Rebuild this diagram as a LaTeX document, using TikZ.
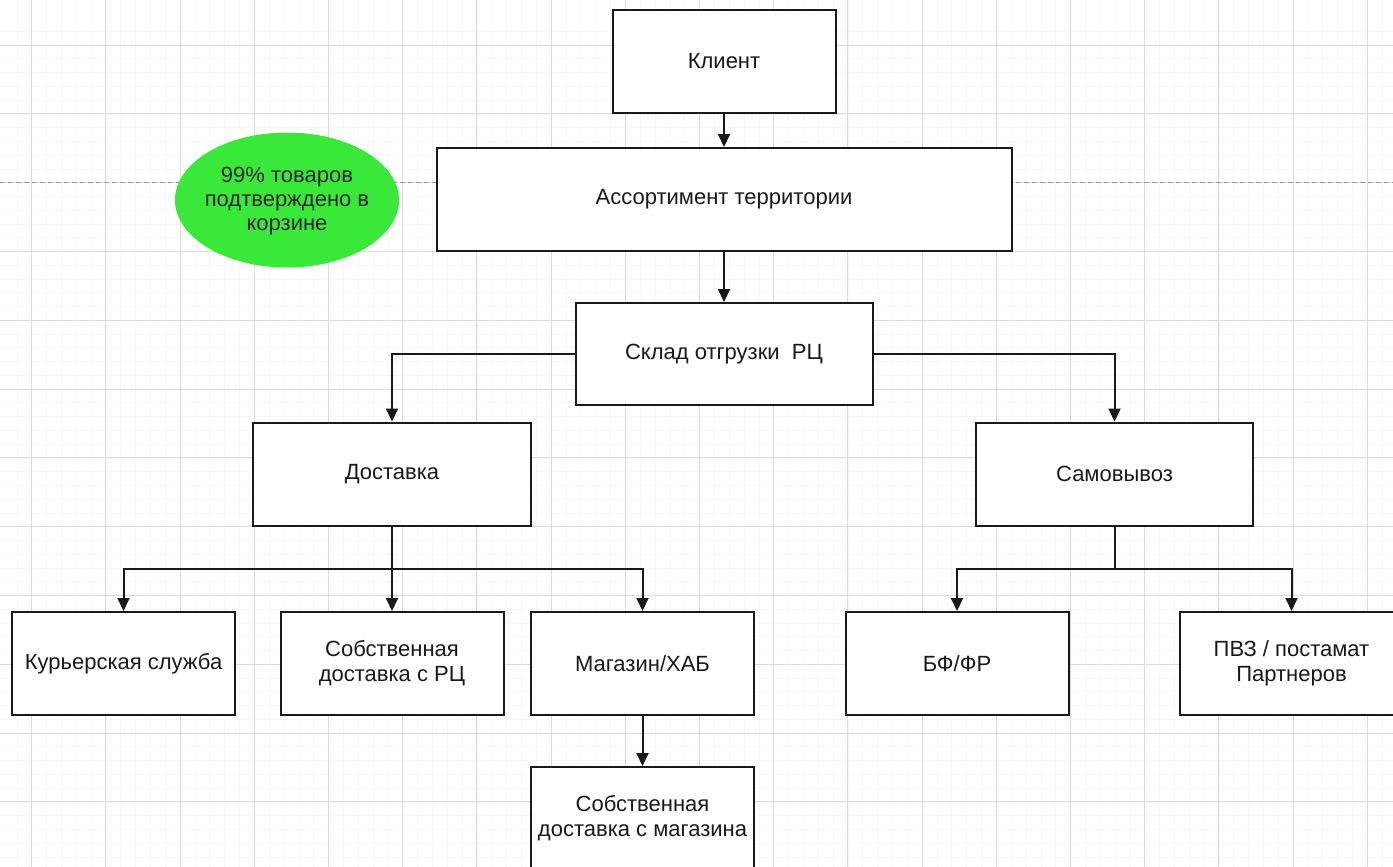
\documentclass[tikz,border=0pt]{standalone}
\usepackage{fontspec}
\setmainfont{Liberation Sans}
\usetikzlibrary{shapes.geometric,arrows.meta}
\definecolor{gridmajor}{RGB}{220,220,220}
\definecolor{gridminor}{RGB}{247,247,247}
\definecolor{ink}{RGB}{25,25,25}
\definecolor{badge}{RGB}{58,232,58}
\begin{document}
\begin{tikzpicture}[x=1pt,y=-1pt,
  box/.style={draw=ink,line width=2pt,fill=white,minimum width=223pt,
    minimum height=103pt,align=center,inner sep=2pt,text=ink,
    font=\fontsize{22}{25}\selectfont},
  wire/.style={draw=ink,line width=2pt},
  link/.style={wire,-{Triangle[length=13pt,width=12pt]}},
  guide/.style={draw=black!40,line width=0.8pt,dash pattern=on 5pt off 3pt}]

% page frame
\useasboundingbox (0,0) rectangle (1393,867);
\clip (0,0) rectangle (1393,867);

% background grid
\fill[white] (0,0) rectangle (1393,867);
\foreach \i in {-1,...,100} {
  \draw[gridminor,line width=0.6pt] ({31.7+14.84*\i},0) -- ({31.7+14.84*\i},867);
  \draw[gridminor,line width=0.6pt] (0,{45+13.76*\i}) -- (1393,{45+13.76*\i});
}
\foreach \i in {-1,...,19} {
  \draw[gridmajor,line width=0.9pt] ({31.7+74.2*\i},0) -- ({31.7+74.2*\i},867);
  \draw[gridmajor,line width=0.9pt] (0,{45+68.8*\i}) -- (1393,{45+68.8*\i});
}

% horizontal guide line
\coordinate (gl) at (0,182.6);
\coordinate (gr) at (1393,182.6);
\draw[guide] (gl) -- (gr);

% nodes
\node[box] (client) at (724,61.5) {Клиент};
\node[box,minimum width=575pt] (assort) at (724,199.5) {Ассортимент территории};
\node[draw=none,fill=badge,ellipse,minimum width=224pt,minimum height=135pt,
  inner sep=0pt] (badge) at (287,200) {};
\node[align=center,text=black!85,inner sep=0pt,
  font=\fontsize{22}{24}\selectfont] (badgetext) at (287,201)
  {99\% товаров\\подтверждено в\\корзине};
\node[box,minimum width=297pt,minimum height=102pt] (sklad) at (724,354) {Склад отгрузки\ \ РЦ};
\node[box,minimum width=278pt] (dost) at (392,474) {Доставка};
\node[box,minimum width=277pt] (samo) at (1114.5,474) {Самовывоз};
\node[box] (kur) at (123.5,663.5) {Курьерская служба};
\node[box] (sobrc) at (392,663.5) {Собственная\\доставка с РЦ};
\node[box] (mag) at (642.5,663.5) {Магазин/ХАБ};
\node[box] (sobmag) at (642.5,818.5) {Собственная\\доставка с магазина};
\node[box] (bf) at (957,663.5) {БФ/ФР};
\node[box] (pvz) at (1291.5,663.5) {ПВЗ / постамат\\Партнеров};

% connectors
\draw[link] (client.south) -- (assort.north);
\draw[link] (assort.south) -- (sklad.north);
\draw[link] (sklad.west) -| (dost.north);
\draw[link] (sklad.east) -| (samo.north);

\coordinate (dj) at (392,569);
\draw[wire] (dost.south) -- (dj);
\draw[link] (dj) -| (kur.north);
\draw[link] (dj) -- (sobrc.north);
\draw[link] (dj) -| (mag.north);

\coordinate (sj) at (1114.5,569);
\draw[wire] (samo.south) -- (sj);
\draw[link] (sj) -| (bf.north);
\draw[link] (sj) -| (pvz.north);

\draw[link] (mag.south) -- (sobmag.north);
\end{tikzpicture}
\end{document}
